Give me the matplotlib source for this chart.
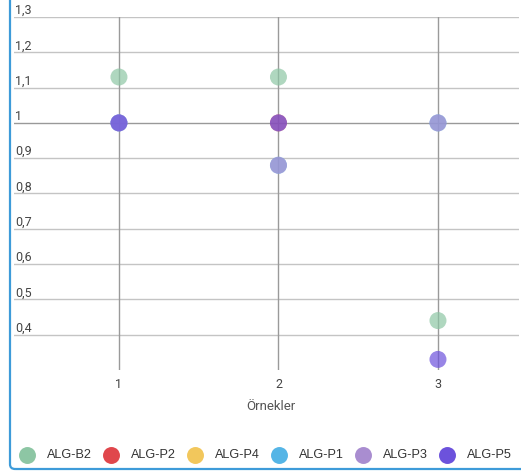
import matplotlib
matplotlib.use("Agg")
import matplotlib.pyplot as plt
import matplotlib.transforms as mtransforms
from matplotlib.patches import FancyBboxPatch
import numpy as np

# Samples on the x axis
samples = [1, 2, 3]

# Series values per sample (nan = no point)
alg_b2 = [1.13, 1.13, 0.44]
alg_p2 = [np.nan, 1.0, np.nan]
alg_p4 = [np.nan, np.nan, np.nan]
alg_p1 = [1.0, 0.88, 1.0]
alg_p3 = [1.0, 0.88, 1.0]
alg_p5 = [1.0, 1.0, 0.33]

series_names = ["ALG-B2", "ALG-P2", "ALG-P4", "ALG-P1", "ALG-P3", "ALG-P5"]
series_values = [alg_b2, alg_p2, alg_p4, alg_p1, alg_p3, alg_p5]
series_colors = ["#8dc6a4", "#e0474c", "#f2c75c", "#55b5e6", "#a98dd0", "#6c52dc"]

y_ticks = [0.4, 0.5, 0.6, 0.7, 0.8, 0.9, 1.0, 1.1, 1.2, 1.3]
y_tick_labels = ["0,4", "0,5", "0,6", "0,7", "0,8", "0,9", "1", "1,1", "1,2", "1,3"]
x_title = "Örnekler"

W, H = 521, 474
fig = plt.figure(figsize=(W / 100, H / 100), dpi=100)

# Plot area in pixels
left_px, right_px, top_px, bottom_px = 14, 519, 17, 370
ax = fig.add_axes([left_px / W, 1 - bottom_px / H,
                   (right_px - left_px) / W, (bottom_px - top_px) / H])
ax.set_xlim(0.342, 3.508)
ax.set_ylim(0.3, 1.3)
for s in ax.spines.values():
    s.set_visible(False)
ax.set_xticks([])
ax.set_yticks([])

# Gridlines
for v in y_ticks:
    ax.axhline(v, color="#999999" if v == 1.0 else "#c4c4c4", lw=1.0, zorder=1)
for x in samples:
    ax.axvline(x, color="#9a9a9a", lw=1.0, zorder=1)

# Points
for vals, col in zip(series_values, series_colors):
    ax.scatter(samples, vals, s=150, color=col, alpha=0.7, edgecolors="none", zorder=3)

# Y labels sitting above each gridline
trans = mtransforms.blended_transform_factory(ax.transAxes, ax.transData)
trans = mtransforms.offset_copy(trans, fig=fig, x=1, y=3, units="dots")
for v, lab in zip(y_ticks, y_tick_labels):
    ax.text(0, v, lab, transform=trans, ha="left", va="baseline",
            fontsize=9, family="Roboto", color="#444444")

# X tick labels and title
xtrans = mtransforms.blended_transform_factory(ax.transData, fig.transFigure)
for x in samples:
    ax.text(x, 1 - 385 / H, str(x), transform=xtrans, ha="center", va="center",
            fontsize=9, family="Roboto", color="#444444")
fig.text(271 / W, 1 - 406 / H, x_title, ha="center", va="center",
         fontsize=9.5, family="Roboto", color="#555555")

# Legend row
leg_y = 1 - 455 / H
for i, (name, col) in enumerate(zip(series_names, series_colors)):
    cx = (26.7 + i * 84.06) / W
    fig.add_artist(plt.Line2D([cx], [leg_y], marker="o", markersize=12.2,
                              color=col, markeredgewidth=0, linestyle="none",
                              transform=fig.transFigure))
    fig.text(cx + 20 / W, leg_y, name, ha="left", va="center",
             fontsize=9.1, family="Liberation Sans", color="#333333")

# Panel border
border = FancyBboxPatch((10 / W, 1 - 469 / H), 560 / W, 500 / H,
                        boxstyle="round,pad=0,rounding_size=0.01",
                        transform=fig.transFigure, fill=False,
                        edgecolor="#3d9bd9", lw=1.6)
fig.add_artist(border)

fig.savefig("out.png", dpi=100)
